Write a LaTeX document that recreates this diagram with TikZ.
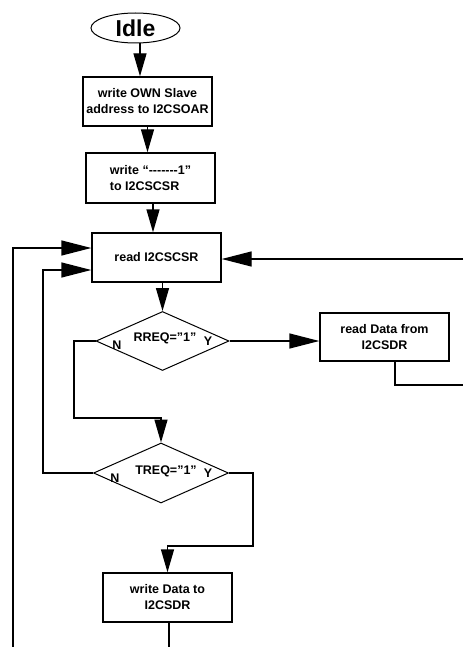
\documentclass[tikz,border=0pt]{standalone}
\usepackage{fontspec}
\setmainfont{Liberation Sans}
\usetikzlibrary{shapes.geometric,arrows.meta,calc}
\newcommand{\hy}{-\kern0pt}
\begin{document}
\begin{tikzpicture}[x=1pt,y=-1pt,
  txt/.style={font=\fontsize{12.5}{16}\selectfont\bfseries},
  box/.style={draw,line width=1.4pt,minimum width=129pt,minimum height=49pt,inner sep=0pt,align=center,txt},
  dia/.style={draw,line width=1pt,diamond,inner sep=0pt},
  ln/.style={line width=1.4pt},
  thin/.style={line width=1pt},
  varr/.style={ln,-{Triangle[length=23pt,width=13pt]}},
  harr/.style={ln,-{Triangle[length=30pt,width=15pt]}}]
\useasboundingbox (0,0) rectangle (463,647);
% nodes
\node[draw,line width=1pt,ellipse,minimum width=89pt,minimum height=30pt,inner sep=0pt,
      font=\fontsize{23}{26}\selectfont\bfseries] (idle) at (135.5,28) {Idle};
\node[box] (box1) at (147.5,101.5) {write OWN Slave\\address to I2CSOAR};
\node[box,minimum height=50pt,align=left] (box2) at (150.5,178) {write “\hy\hy\hy\hy\hy\hy\hy 1”\\to I2CSCSR};
\node[box] (read) at (156.5,257.5) {read I2CSCSR};
\node[dia,minimum width=133pt,minimum height=59pt] (d1) at (162.5,341) {};
\node[txt] (c1) at (165,338) {RREQ=”1”};
\node[txt] (n1) at (117,345) {N};
\node[txt] (y1) at (208,341) {Y};
\node[box,minimum height=48pt] (rdata) at (384.5,337) {read Data from\\I2CSDR};
\node[dia,minimum width=135pt,minimum height=60pt] (d2) at (161,473) {};
\node[txt] (c2) at (166,471) {TREQ=”1”};
\node[txt] (n2) at (115,478) {N};
\node[txt] (y2) at (208,473) {Y};
\node[box] (wdata) at (167.5,597.5) {write Data to\\I2CSDR};
% helper coordinates
\coordinate (e1) at (463,385);
\coordinate (e2) at (463,259);
\coordinate (k1) at (74,418);
\coordinate (k2) at (43,270);
\coordinate (k3) at (253,546);
\coordinate (b1) at (13,647);
\coordinate (b2) at (169,647);
% connectors
\draw[varr] ([xshift=4.5pt]idle.south) -- ([xshift=4.5pt]idle.south |- box1.north);
\draw[varr] (box1.south) -- (box1.south |- box2.north);
\draw[varr] ([xshift=2.5pt]box2.south) -- ([xshift=2.5pt]box2.south |- read.north);
\draw[varr] (d1.north |- read.south) -- (d1.north);
\draw[harr] (d1.east) -- (d1.east -| rdata.west);
\draw[ln] ([xshift=10.5pt]rdata.south) |- (e1);
\draw[harr] (e2) -- (e2 -| read.east);
\draw[varr] (d1.west) -| (k1) -| (d2.north);
\draw[harr] (d2.west) -| (k2) -- (k2 -| read.west);
\draw[harr] (b1) |- ([yshift=9.5pt]read.west);
\draw[varr] (d2.east) -| (k3) -| (wdata.north);
\draw[ln] ([xshift=1.5pt]wdata.south) -- ([xshift=1.5pt]wdata.south |- b2);
\end{tikzpicture}
\end{document}
